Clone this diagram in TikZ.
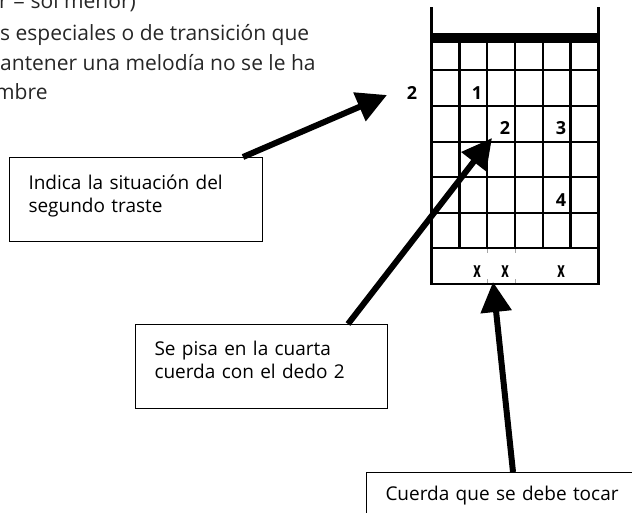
\documentclass[tikz,border=0pt]{standalone}
\usepackage{fontspec}
\usepackage{graphicx}
\setmainfont{Open Sans}
\usetikzlibrary{arrows.meta,calc}
\tikzset{
  fret/.style={line width=2.5pt, line cap=rect},
  callout/.style={draw, line width=1pt, anchor=north west, inner xsep=19pt, inner ysep=0pt,
    align=left, font=\fontsize{19}{22.5}\selectfont},
  topline/.style={anchor=base west, inner sep=0pt, font=\fontsize{21}{30}\selectfont, text=black!85},
  finger/.style={font=\bfseries\fontsize{18}{18}\selectfont, inner sep=0pt},
  pointer/.style={line width=6pt, -{Triangle[length=30pt,width=30pt]}},
}
\newcommand{\openx}{\scalebox{0.72}[1.2]{x}}
\begin{document}
\begin{tikzpicture}[x=1pt,y=-1pt]
\useasboundingbox (0,0) rectangle (632,512);
\clip (0,0) rectangle (632,512);
% top text (cropped)
\node[topline] (t1) at (-1,8) {r = sol menor)};
\node[topline] (t2) at (0,40) {s especiales o de transición que};
\node[topline] (t3) at (0,70) {antener una melodía no se le ha};
\node[topline] (t4) at (-5,99) {mbre};
% fretboard
\def\xa{431.7}\def\xb{598.3}
\draw[fret] (\xa,8) -- (\xa,284);
\draw[fret] (\xb,8) -- (\xb,284);
\fill (\xa,33) rectangle (\xb,43);
\foreach \i in {1,...,5} {
  \draw[fret] ({\xa+\i*27.77},43) -- ({\xa+\i*27.77},248);
}
\foreach \y in {70,106,142,177,213,248,284} {
  \draw[fret] (\xa,\y) -- (\xb,\y);
}
\foreach \x in {487.2,515} {
  \draw[black!35, line width=0.6pt] (\x,249) -- (\x,253);
  \draw[black!35, line width=0.6pt] (\x,279) -- (\x,283);
}
% finger numbers
\node[finger] (fr) at (412,93) {2};
\node[finger] (f1) at (477,93) {1};
\node[finger] (f2) at (505,128) {2};
\node[finger] (f3) at (561,128) {3};
\node[finger] (f4) at (561,200) {4};
\node[finger] (x1) at (477,272) {\openx};
\node[finger] (x2) at (505,272) {\openx};
\node[finger] (x3) at (561,272) {\openx};
% callouts
\node[callout, text width=215pt] (indica) at (9,157)
  {\rule{0pt}{32pt}Indica la situación del\\segundo traste\rule[-29.5pt]{0pt}{29.5pt}};
\node[callout, text width=214pt] (pisa) at (135,324)
  {\rule{0pt}{31pt}Se pisa en la cuarta\\cuerda con el dedo 2\rule[-30.5pt]{0pt}{30.5pt}};
\node[callout, text width=300pt] (cuerda) at (366,472)
  {\rule{0pt}{28pt}Cuerda que se debe tocar\rule[-40pt]{0pt}{40pt}};
% pointer tips
\coordinate (tip1) at (387,95);
\coordinate (tip2) at (492,138);
\coordinate (tip3) at (493,282);
\draw[pointer] ([xshift=-20pt]indica.north east) -- (tip1);
\draw[pointer] ([xshift=-40pt]pisa.north east) -- (tip2);
\draw[pointer] ([xshift=147pt]cuerda.north west) -- (tip3);
\end{tikzpicture}
\end{document}
